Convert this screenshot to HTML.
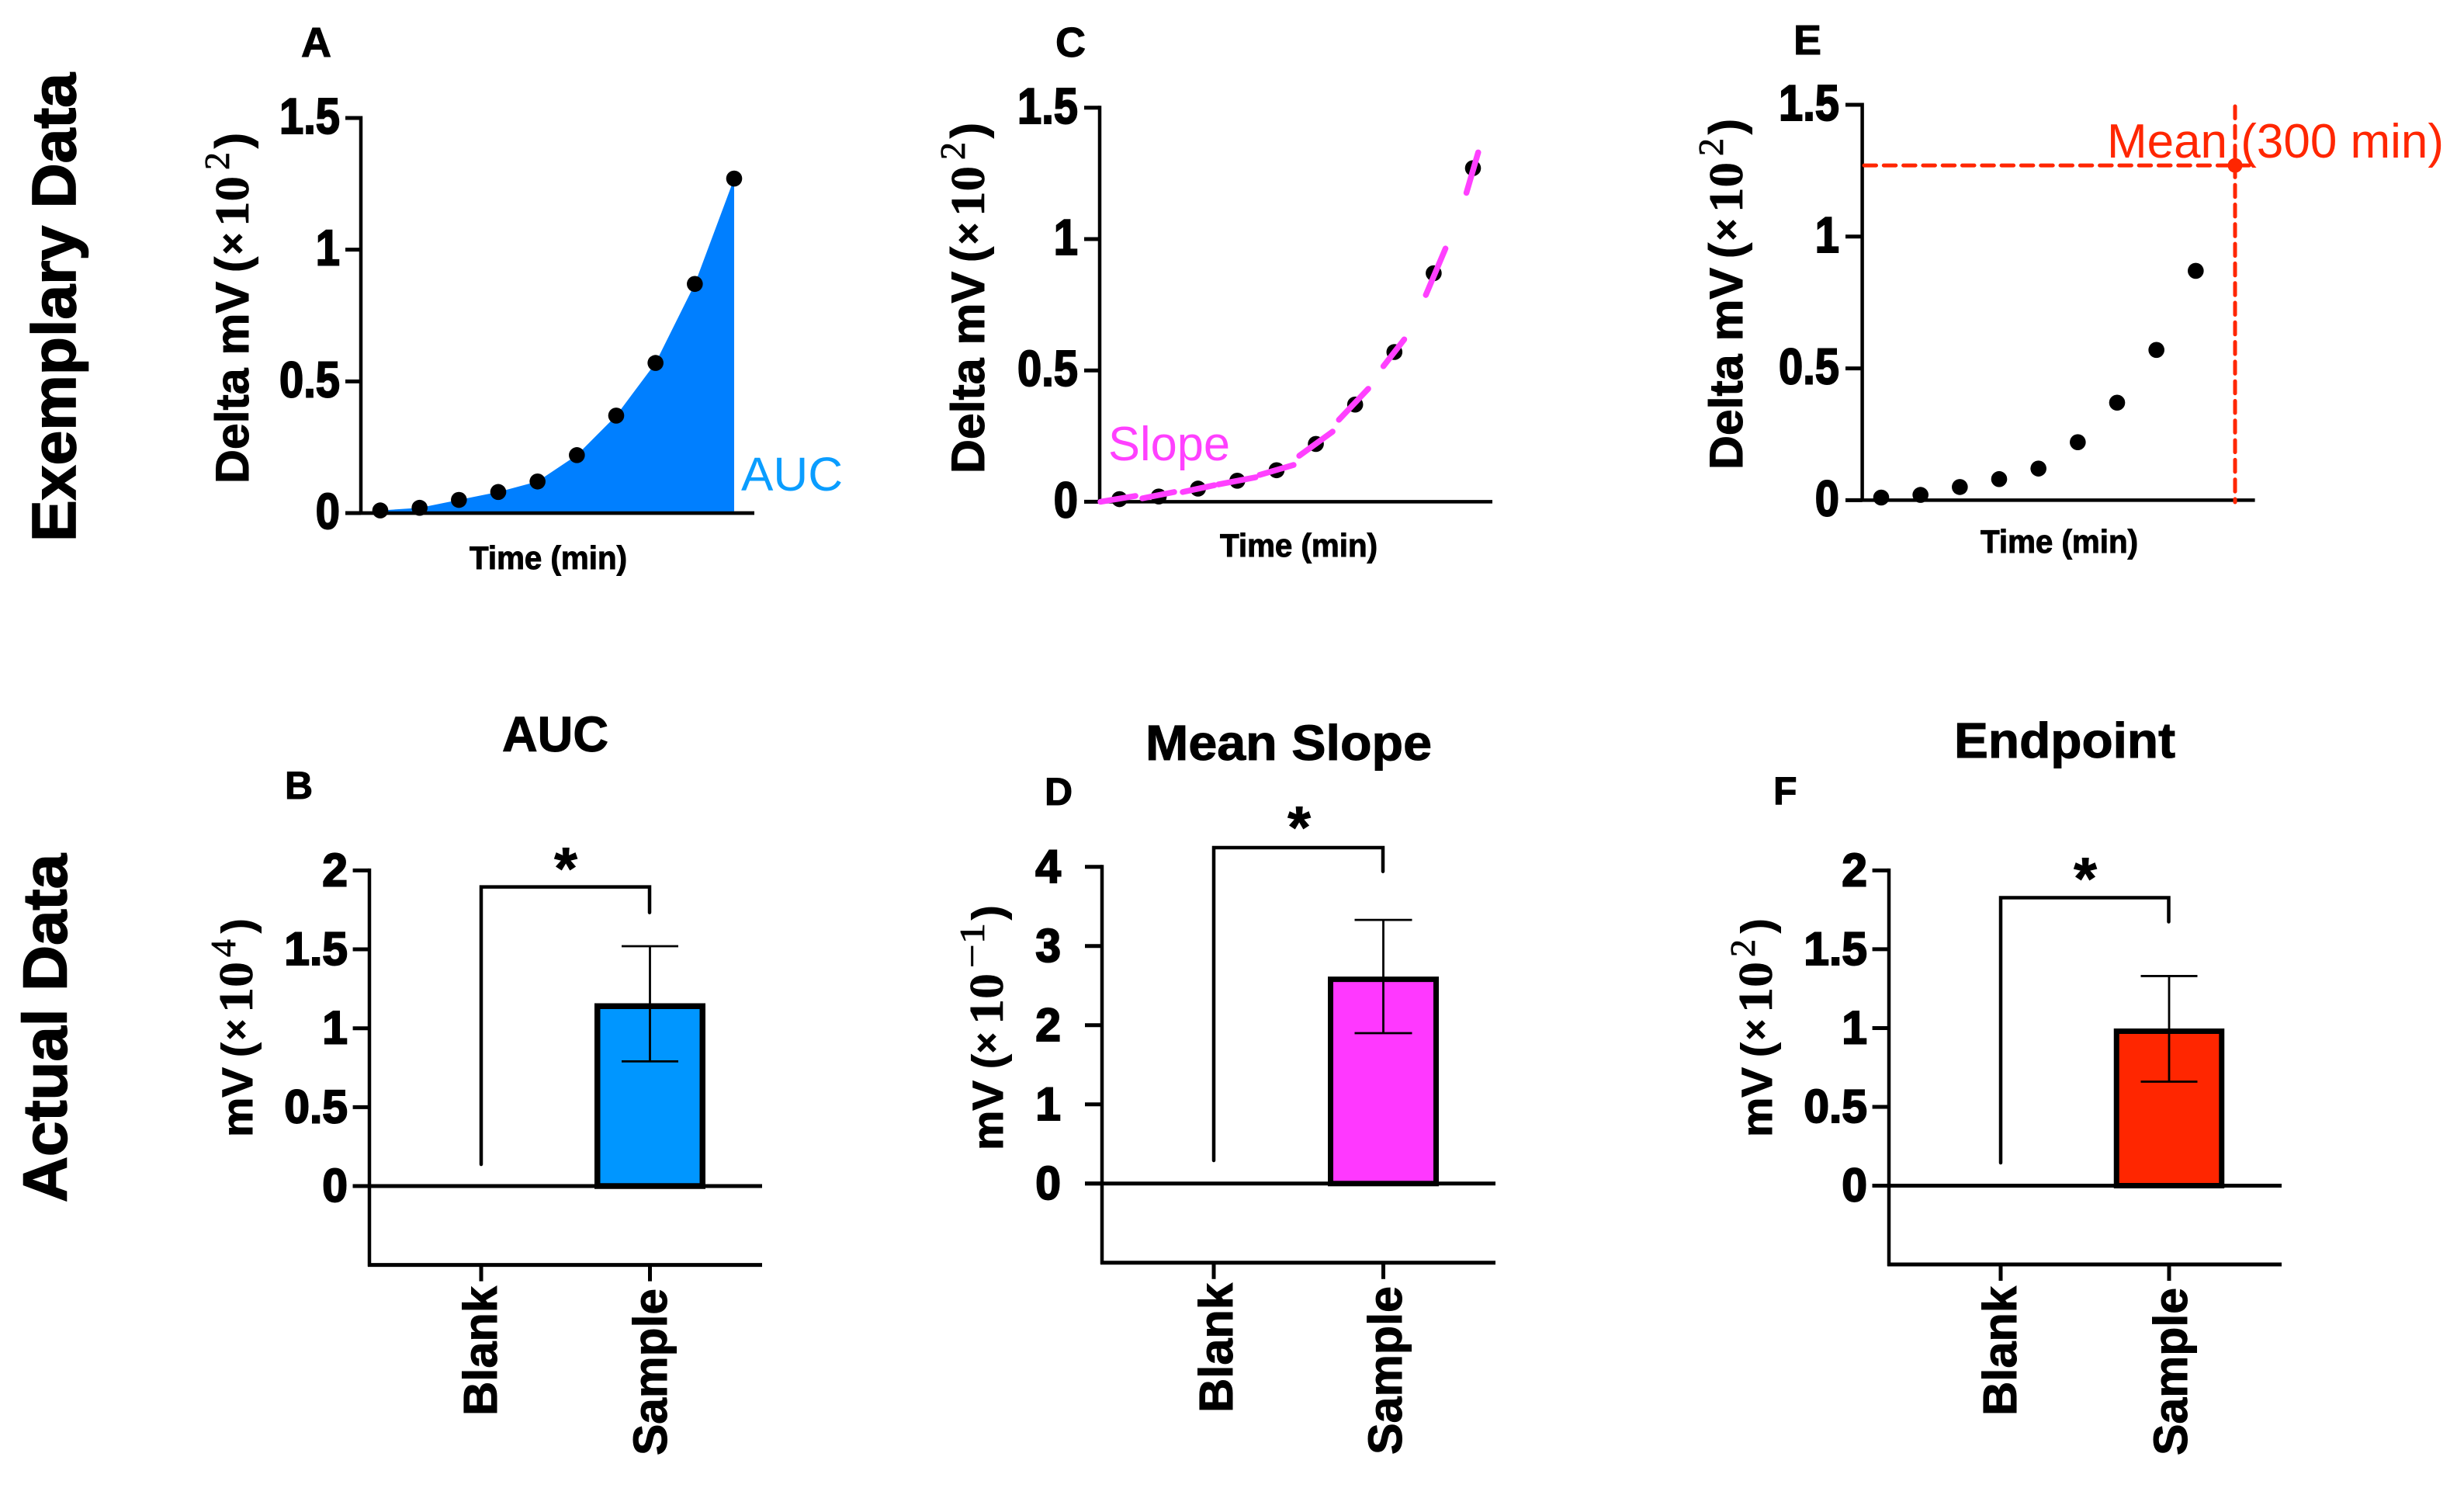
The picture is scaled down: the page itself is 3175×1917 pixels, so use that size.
<!DOCTYPE html>
<html lang="en">
<head>
<meta charset="utf-8">
<title>Exemplary and actual data panels</title>
<style>
html,body{margin:0;padding:0;background:#fff}
svg{display:block}
text{font-family:"Liberation Sans",Arial,sans-serif;fill:#000}
.b{font-weight:700;stroke:#000;stroke-width:1}
.row{font-weight:700;stroke:#000;stroke-width:1.6}
.tk{font-weight:700;stroke:#000;stroke-width:2}
.ser{font-family:"Liberation Serif",serif;font-weight:700;stroke:#000;stroke-width:.6}
.sup{font-family:"Liberation Serif",serif;font-weight:400;stroke:#000;stroke-width:.8}
</style>
</head>
<body>
<svg id="figure" xmlns="http://www.w3.org/2000/svg" width="3175" height="1917" viewBox="0 0 3175 1917">
<rect width="3175" height="1917" fill="#fff"/>

<text class="row" font-size="80" textLength="604" lengthAdjust="spacingAndGlyphs" transform="translate(97,698) rotate(-90)">Exemplary Data</text>
<text class="row" font-size="80" textLength="449" lengthAdjust="spacingAndGlyphs" transform="translate(85.6,1549) rotate(-90)">Actual Data</text>

<g id="panel-a">
<text class="b" x="388" y="73" font-size="54">A</text>
<text class="b" font-size="60" textLength="260" lengthAdjust="spacingAndGlyphs" transform="translate(320,623) rotate(-90)">Delta mV</text>
<text class="b" font-size="60" transform="translate(320,351) rotate(-90)">(</text>
<text class="b" font-size="48" transform="translate(316,328) rotate(-90)">×</text>
<text class="ser" font-size="62" textLength="65" lengthAdjust="spacingAndGlyphs" transform="translate(320,292) rotate(-90)">10</text>
<text class="sup" font-size="46" transform="translate(295,219) rotate(-90)">2</text>
<text class="b" font-size="60" transform="translate(320,191) rotate(-90)">)</text>
<text class="b" x="605" y="733" font-size="42" textLength="203" lengthAdjust="spacingAndGlyphs">Time (min)</text>
<text x="955" y="632" font-size="61" textLength="131" lengthAdjust="spacingAndGlyphs" style="fill:#0a9dff">AUC</text>
</g>

<g id="panel-c">
<text class="b" x="1360" y="73" font-size="54">C</text>
<text class="b" font-size="60" textLength="260" lengthAdjust="spacingAndGlyphs" transform="translate(1268,610) rotate(-90)">Delta mV</text>
<text class="b" font-size="60" transform="translate(1268,338) rotate(-90)">(</text>
<text class="b" font-size="48" transform="translate(1264,315) rotate(-90)">×</text>
<text class="ser" font-size="62" textLength="65" lengthAdjust="spacingAndGlyphs" transform="translate(1268,279) rotate(-90)">10</text>
<text class="sup" font-size="46" transform="translate(1243,206) rotate(-90)">2</text>
<text class="b" font-size="60" transform="translate(1268,178) rotate(-90)">)</text>
<text class="b" x="1572" y="717" font-size="42" textLength="203" lengthAdjust="spacingAndGlyphs">Time (min)</text>
<text x="1428" y="593" font-size="62" textLength="157" lengthAdjust="spacingAndGlyphs" style="fill:#ff40ff">Slope</text>
</g>

<g id="panel-e">
<text class="b" x="2311" y="70" font-size="54">E</text>
<text class="b" font-size="60" textLength="260" lengthAdjust="spacingAndGlyphs" transform="translate(2245,605) rotate(-90)">Delta mV</text>
<text class="b" font-size="60" transform="translate(2245,333) rotate(-90)">(</text>
<text class="b" font-size="48" transform="translate(2241,310) rotate(-90)">×</text>
<text class="ser" font-size="62" textLength="65" lengthAdjust="spacingAndGlyphs" transform="translate(2245,274) rotate(-90)">10</text>
<text class="sup" font-size="46" transform="translate(2220,201) rotate(-90)">2</text>
<text class="b" font-size="60" transform="translate(2245,173) rotate(-90)">)</text>
<text class="b" x="2552" y="712" font-size="42" textLength="203" lengthAdjust="spacingAndGlyphs">Time (min)</text>
<text x="2715" y="203" font-size="62" textLength="434" lengthAdjust="spacingAndGlyphs" style="fill:#ff2600">Mean (300 min)</text>
</g>

<g id="panel-b">
<text class="b" x="647" y="968" font-size="64" textLength="137" lengthAdjust="spacingAndGlyphs">AUC</text>
<text class="b" x="367" y="1029" font-size="50">B</text>
<text class="b" font-size="56" textLength="90" lengthAdjust="spacingAndGlyphs" transform="translate(325,1465) rotate(-90)">mV</text>
<text class="b" font-size="56" transform="translate(325,1362) rotate(-90)">(</text>
<text class="b" font-size="46" transform="translate(320,1340) rotate(-90)">×</text>
<text class="ser" font-size="62" textLength="66" lengthAdjust="spacingAndGlyphs" transform="translate(325,1305) rotate(-90)">10</text>
<text class="sup" font-size="46" transform="translate(303,1233) rotate(-90)">4</text>
<text class="b" font-size="56" transform="translate(325,1202) rotate(-90)">)</text>
<path d="M620 1500V1142.6H837V1175.6" fill="none" stroke="#000" stroke-width="4.5" stroke-linecap="round"/>
<text class="b" x="729" y="1145" font-size="76" text-anchor="middle">*</text>
<text class="b" font-size="61" textLength="167" lengthAdjust="spacingAndGlyphs" transform="translate(640,1824) rotate(-90)">Blank</text>
<text class="b" font-size="61" textLength="215" lengthAdjust="spacingAndGlyphs" transform="translate(859,1875) rotate(-90)">Sample</text>
</g>

<g id="panel-d">
<text class="b" x="1476" y="979" font-size="64" textLength="369" lengthAdjust="spacingAndGlyphs">Mean Slope</text>
<text class="b" x="1346" y="1037" font-size="50">D</text>
<text class="b" font-size="56" textLength="90" lengthAdjust="spacingAndGlyphs" transform="translate(1292,1482) rotate(-90)">mV</text>
<text class="b" font-size="56" transform="translate(1292,1377) rotate(-90)">(</text>
<text class="b" font-size="46" transform="translate(1287,1357) rotate(-90)">×</text>
<text class="ser" font-size="62" textLength="66" lengthAdjust="spacingAndGlyphs" transform="translate(1292,1320) rotate(-90)">10</text>
<text class="sup" font-size="46" textLength="58" lengthAdjust="spacingAndGlyphs" transform="translate(1268,1247) rotate(-90)">−1</text>
<text class="b" font-size="56" transform="translate(1292,1185) rotate(-90)">)</text>
<path d="M1564 1495V1092H1782V1122.7" fill="none" stroke="#000" stroke-width="4.5" stroke-linecap="round"/>
<text class="b" x="1674" y="1092" font-size="76" text-anchor="middle">*</text>
<text class="b" font-size="61" textLength="167" lengthAdjust="spacingAndGlyphs" transform="translate(1588,1820) rotate(-90)">Blank</text>
<text class="b" font-size="61" textLength="217" lengthAdjust="spacingAndGlyphs" transform="translate(1806,1874) rotate(-90)">Sample</text>
</g>

<g id="panel-f">
<text class="b" x="2518" y="976" font-size="64" textLength="285" lengthAdjust="spacingAndGlyphs">Endpoint</text>
<text class="b" x="2285" y="1036" font-size="50">F</text>
<text class="b" font-size="56" textLength="90" lengthAdjust="spacingAndGlyphs" transform="translate(2283,1465) rotate(-90)">mV</text>
<text class="b" font-size="56" transform="translate(2283,1362) rotate(-90)">(</text>
<text class="b" font-size="46" transform="translate(2278,1340) rotate(-90)">×</text>
<text class="ser" font-size="62" textLength="66" lengthAdjust="spacingAndGlyphs" transform="translate(2283,1305) rotate(-90)">10</text>
<text class="sup" font-size="46" transform="translate(2261,1233) rotate(-90)">2</text>
<text class="b" font-size="56" transform="translate(2283,1202) rotate(-90)">)</text>
<path d="M2578 1498V1156.5H2794.5V1187.5" fill="none" stroke="#000" stroke-width="4.5" stroke-linecap="round"/>
<text class="b" x="2687" y="1158" font-size="76" text-anchor="middle">*</text>
<text class="b" font-size="61" textLength="167" lengthAdjust="spacingAndGlyphs" transform="translate(2598,1824) rotate(-90)">Blank</text>
<text class="b" font-size="61" textLength="216" lengthAdjust="spacingAndGlyphs" transform="translate(2818,1875) rotate(-90)">Sample</text>
</g>
</svg>

<script>
// ---- data: time course ----
const timePoints = [30, 60, 90, 120, 150, 180, 210, 240, 270, 300];
const deltaMv = [0.01, 0.02, 0.05, 0.08, 0.12, 0.22, 0.37, 0.57, 0.87, 1.27];
const lineTickValues = [0, 0.5, 1, 1.5];
const lineTickLabels = ['0', '0.5', '1', '1.5'];

// ---- data: fitted slope, one [start, end] pair per dash ----
const slopeDashTimes = [[15.5, 42.2], [47.5, 71.8], [78.3, 102.6], [105.6, 134], [137, 163], [167.3, 192.8], [197.6, 220], [231.6, 247.5], [264, 279], [295, 304]];
const slopeDashValues = [[0, 0.022], [0.013, 0.037], [0.037, 0.063], [0.066, 0.093], [0.102, 0.14], [0.175, 0.267], [0.312, 0.43], [0.516, 0.618], [0.787, 0.964], [1.176, 1.33]];

// ---- data: bar panels ----
const barCategories = ['Blank', 'Sample'];
const aucMeans = [0, 1.14];
const aucErrorLow = [0, 0.79];
const aucErrorHigh = [0, 1.52];
const aucTickValues = [0, 0.5, 1, 1.5, 2];
const aucTickLabels = ['0', '0.5', '1', '1.5', '2'];
const slopeMeans = [0, 2.58];
const slopeErrorLow = [0, 1.9];
const slopeErrorHigh = [0, 3.33];
const slopeTickValues = [0, 1, 2, 3, 4];
const slopeTickLabels = ['0', '1', '2', '3', '4'];
const endpointMeans = [0, 0.98];
const endpointErrorLow = [0, 0.66];
const endpointErrorHigh = [0, 1.33];
const endpointTickValues = [0, 0.5, 1, 1.5, 2];
const endpointTickLabels = ['0', '0.5', '1', '1.5', '2'];

const NS = 'http://www.w3.org/2000/svg';
const BLUE = '#007fff', BAR_BLUE = '#0096ff', PINK = '#ff40ff', BAR_PINK = '#ff38ff', RED = '#ff2600';

function make(tag, parent, geometry) {
  const el = document.createElementNS(NS, tag);
  for (const key in geometry) el.setAttribute(key, geometry[key]);
  parent.appendChild(el);
  return el;
}

function linearScale(d0, d1, r0, r1) {
  return v => r0 + (v - d0) / (d1 - d0) * (r1 - r0);
}

function drawYAxis(g, frame, y, tickValues, tickLabels, yMin) {
  const bottom = y(yMin);
  const axis = make('line', g, {x1: frame.axisX, x2: frame.axisX, y1: y(tickValues[tickValues.length - 1]) - 2.5, y2: bottom + 2, stroke: '#000', 'stroke-width': 4.5});
  
  
  tickValues.forEach((v, i) => {
    const tick = make('line', g, {x1: frame.tickStart, x2: frame.axisX, y1: y(v), y2: y(v), stroke: '#000', 'stroke-width': 5});
    
    
    const label = make('text', g, {class: 'tk', 'font-size': frame.tickFont, 'text-anchor': 'end', transform: 'translate(' + frame.labelRight + ',' + (y(v) + 20) + ') scale(' + frame.tickStretch + ',1)'});
    label.textContent = tickLabels[i];
    
    
  });
}

function drawLinePanel(id, frame) {
  const g = document.getElementById(id);
  const x = linearScale(timePoints[0], timePoints[timePoints.length - 1], frame.firstX, frame.lastX);
  const y = linearScale(0, 1.5, frame.y0, frame.yTop);
  drawYAxis(g, frame, y, lineTickValues, lineTickLabels, 0);
  const xAxis = make('line', g, {x1: frame.tickStart, x2: frame.axisEnd, y1: frame.y0, y2: frame.y0, stroke: '#000', 'stroke-width': 4.5});
  
  
  return {g, x, y};
}

function drawDots(g, x, y, count, color) {
  for (let i = 0; i < count; i++) {
    const dot = make('circle', g, {cx: x(timePoints[i]), cy: y(deltaMv[i]), r: 10.3, fill: color});
    
    
  }
}

// Panel A: area under the curve
(function () {
  const p = drawLinePanel('panel-a', {axisX: 465, tickStart: 445, axisEnd: 972, labelRight: 438, tickFont: 65, tickStretch: 0.863, firstX: 490, lastX: 946, y0: 661, yTop: 152});
  const pts = timePoints.map((t, i) => p.x(t) + ',' + p.y(deltaMv[i]));
  const base = p.y(0);
  const area = make('polygon', p.g, {points: p.x(timePoints[0]) + ',' + base + ' ' + pts.join(' ') + ' ' + p.x(timePoints[9]) + ',' + base, fill: BLUE});
  
  
  const redraw = make('line', p.g, {x1: 445, x2: 972, y1: base, y2: base, stroke: '#000', 'stroke-width': 4.5});
  
  
  drawDots(p.g, p.x, p.y, timePoints.length, '#000');
})();

// Panel C: slope dashes
(function () {
  const p = drawLinePanel('panel-c', {axisX: 1417, tickStart: 1397, axisEnd: 1923, labelRight: 1389, tickFont: 65, tickStretch: 0.863, firstX: 1442.5, lastX: 1898, y0: 646.4, yTop: 138.8});
  drawDots(p.g, p.x, p.y, timePoints.length, '#000');
  slopeDashTimes.forEach((times, i) => {
    const dash = make('line', p.g, {x1: p.x(times[0]), x2: p.x(times[1]), y1: p.y(slopeDashValues[i][0]), y2: p.y(slopeDashValues[i][1]), stroke: PINK, 'stroke-width': 7.5, 'stroke-linecap': 'round'});
    
    
  });
})();

// Panel E: endpoint
(function () {
  const p = drawLinePanel('panel-e', {axisX: 2399.6, tickStart: 2378, axisEnd: 2905.6, labelRight: 2370, tickFont: 65, tickStretch: 0.863, firstX: 2424, lastX: 2880, y0: 644.4, yTop: 135});
  const last = timePoints.length - 1;
  drawDots(p.g, p.x, p.y, last, '#000');
  const endX = p.x(timePoints[last]), endY = p.y(deltaMv[last]);
  const hLine = make('line', p.g, {x1: 2402, x2: endX + 27, y1: endY, y2: endY, stroke: RED, 'stroke-width': 5, 'stroke-dasharray': '15.5 9.8', 'stroke-linecap': 'round'});
  
  
  const vLine = make('line', p.g, {x1: endX, x2: endX, y1: 137, y2: 647, stroke: RED, 'stroke-width': 5, 'stroke-dasharray': '15.5 9.8', 'stroke-linecap': 'round'});
  
  
  const endDot = make('circle', p.g, {cx: endX, cy: endY, r: 9.5, fill: RED});
  
  
})();

function drawBarPanel(id, frame, means, low, high, tickValues, tickLabels, color) {
  const g = document.getElementById(id);
  const top = tickValues[tickValues.length - 1];
  const y = linearScale(0, top, frame.y0, frame.yTop);
  const x = i => frame.catX[i];
  const yMin = -top / 4;
  drawYAxis(g, frame, y, tickValues, tickLabels, yMin);
  const bw = frame.barWidth, s = frame.barStroke;
  means.forEach((m, i) => {
    const bar = make('rect', g, {x: x(i) - bw / 2 + s / 2, y: y(m), width: bw - s, height: y(0) - y(m), fill: i === 0 ? 'none' : color, stroke: '#000', 'stroke-width': i === 0 ? 4 : s});
    
    
    if (high[i] === low[i]) return;
    const stem = make('line', g, {x1: x(i), x2: x(i), y1: y(high[i]), y2: y(low[i]), stroke: '#000', 'stroke-width': 2.8});
    
    
    [high[i], low[i]].forEach(v => {
      const cap = make('line', g, {x1: x(i) - frame.capHalf, x2: x(i) + frame.capHalf, y1: y(v), y2: y(v), stroke: '#000', 'stroke-width': 2.8});
      
      
    });
  });
  const zero = make('line', g, {x1: frame.tickStart, x2: frame.axisEnd, y1: y(0), y2: y(0), stroke: '#000', 'stroke-width': 5});
  
  
  const floor = make('line', g, {x1: frame.axisX - 2, x2: frame.axisEnd, y1: y(yMin), y2: y(yMin), stroke: '#000', 'stroke-width': 5});
  
  
  barCategories.forEach((c, i) => {
    const tick = make('line', g, {x1: x(i), x2: x(i), y1: y(yMin), y2: y(yMin) + 21, stroke: '#000', 'stroke-width': 5});
    
    
  });
}

drawBarPanel('panel-b', {axisX: 476, tickStart: 454.6, axisEnd: 982, labelRight: 448, tickFont: 60, tickStretch: 0.98, y0: 1528, yTop: 1121.4, catX: [620, 837.5], barWidth: 143, barStroke: 7.5, capHalf: 36.5}, aucMeans, aucErrorLow, aucErrorHigh, aucTickValues, aucTickLabels, BAR_BLUE);
drawBarPanel('panel-d', {axisX: 1420, tickStart: 1398, axisEnd: 1927, labelRight: 1367, tickFont: 60, tickStretch: 0.98, y0: 1524.8, yTop: 1116.8, catX: [1564, 1782.5], barWidth: 143, barStroke: 7, capHalf: 37}, slopeMeans, slopeErrorLow, slopeErrorHigh, slopeTickValues, slopeTickLabels, BAR_PINK);
drawBarPanel('panel-f', {axisX: 2434, tickStart: 2412.6, axisEnd: 2940, labelRight: 2406, tickFont: 60, tickStretch: 0.98, y0: 1527.5, yTop: 1121.4, catX: [2578, 2795], barWidth: 142.5, barStroke: 7, capHalf: 36.5}, endpointMeans, endpointErrorLow, endpointErrorHigh, endpointTickValues, endpointTickLabels, RED);
</script>
</body>
</html>
